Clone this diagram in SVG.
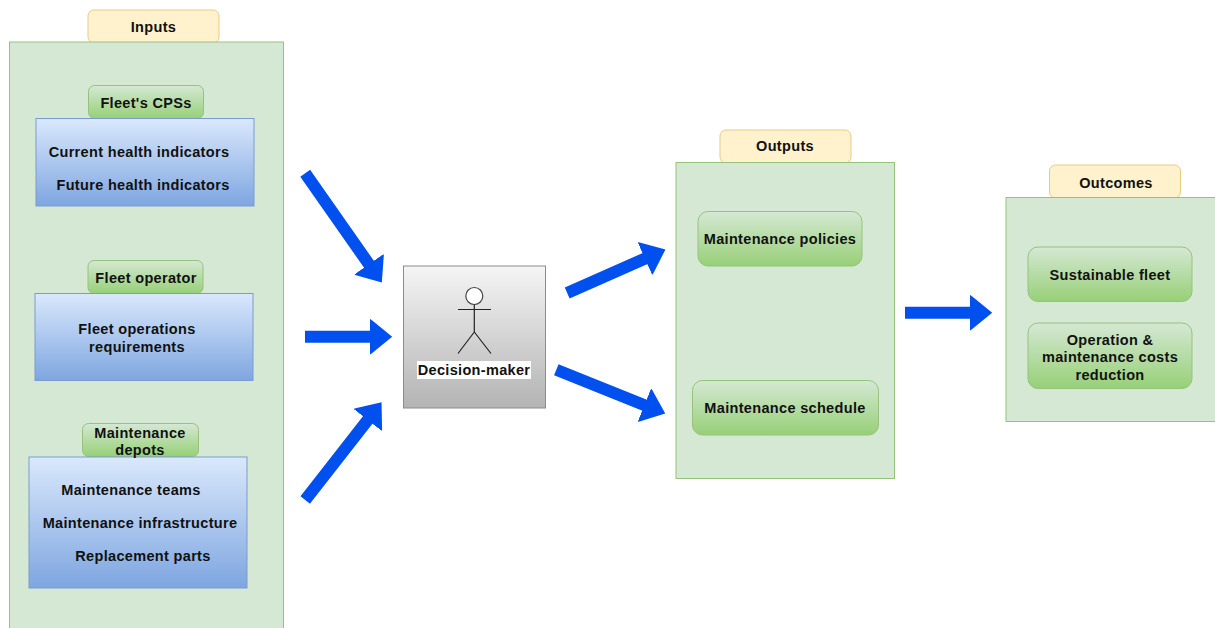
<svg xmlns="http://www.w3.org/2000/svg" width="1215" height="628" viewBox="0 0 1215 628">
<style>
text{font-family:"Liberation Sans",Arial,sans-serif;font-size:14.5px;letter-spacing:.33px;font-weight:bold;fill:#111;text-anchor:middle}
.panel{fill:#d5e8d4;stroke:#97c27d;stroke-width:1}
.tag{fill:#fff2cc;stroke:#e6cb85;stroke-width:1}
.green{fill:url(#g);stroke:#97c27d;stroke-width:1}
.blue{fill:url(#b);stroke:#7a9bcf;stroke-width:1}
.arrow{stroke:#0050ef;stroke-width:12;fill:none;marker-end:url(#head)}
.fig{stroke:#222;stroke-width:1.2;fill:none}
</style>
<defs>
<linearGradient id="g" x1="0" y1="0" x2="0" y2="1"><stop offset="0" stop-color="#d5e8d4"/><stop offset="1" stop-color="#97d077"/></linearGradient>
<linearGradient id="b" x1="0" y1="0" x2="0" y2="1"><stop offset="0" stop-color="#dae8fc"/><stop offset="1" stop-color="#7ea6e0"/></linearGradient>
<linearGradient id="s" x1="0" y1="0" x2="0" y2="1"><stop offset="0" stop-color="#f5f5f5"/><stop offset="1" stop-color="#b3b3b3"/></linearGradient>
<marker id="head" markerUnits="userSpaceOnUse" markerWidth="23" markerHeight="36" refX="1" refY="18" orient="auto" viewBox="0 0 23 36"><path d="M0 .5H1L22.500 18L1 35.500H0Z" fill="#0050ef"/></marker>
</defs>
<g id="inputs">
<rect class="tag" x="88" y="10" width="131" height="33" rx="6"/>
<rect class="panel" x="9.500" y="42" width="274" height="600"/>
<text x="153.500" y="32">Inputs</text>
</g>
<g id="fleet-cps">
<rect class="green" x="88.500" y="85.500" width="115" height="33" rx="6"/>
<rect class="blue" x="36" y="118.500" width="218" height="87.500"/>
<text x="146" y="108">Fleet's CPSs</text>
<text x="139" y="157">Current health indicators</text>
<text x="143" y="190">Future health indicators</text>
</g>
<g id="fleet-operator">
<rect class="green" x="88" y="260.500" width="115" height="33" rx="6"/>
<rect class="blue" x="35" y="293.500" width="218" height="87"/>
<text x="146" y="283">Fleet operator</text>
<text x="137" y="334">Fleet operations</text>
<text x="137" y="352">requirements</text>
</g>
<g id="maintenance-depots">
<rect class="green" x="82.500" y="423.500" width="116" height="33" rx="6"/>
<rect class="blue" x="29" y="457" width="218" height="131"/>
<text x="140" y="438">Maintenance</text>
<text x="140" y="455">depots</text>
<text x="131" y="495">Maintenance teams</text>
<text x="140" y="528">Maintenance infrastructure</text>
<text x="143" y="561">Replacement parts</text>
</g>
<g id="decision-maker">
<rect x="403.500" y="266" width="142" height="142" fill="url(#s)" stroke="#8c8c8c"/>
<circle cx="474.300" cy="296" r="8.500" fill="#fff" stroke="#444" stroke-width="1.200"/>
<path class="fig" d="M474.300 304.500V332M458 309.500H491M474.300 332L458 353.500M474.300 332L491 353.500"/>
<rect x="417" y="361" width="114" height="18" fill="#fff"/>
<text x="474" y="375">Decision-maker</text>
</g>
<g id="outputs">
<rect class="tag" x="720" y="130" width="131" height="33" rx="6"/>
<rect class="panel" x="676" y="162.500" width="218.500" height="316"/>
<text x="785" y="151">Outputs</text>
</g>
<g id="maintenance-policies">
<rect class="green" x="698" y="211.500" width="164" height="54.500" rx="10"/>
<text x="780" y="244">Maintenance policies</text>
</g>
<g id="maintenance-schedule">
<rect class="green" x="692.500" y="380.500" width="186" height="54.500" rx="10"/>
<text x="785" y="413">Maintenance schedule</text>
</g>
<g id="outcomes">
<rect class="tag" x="1049.500" y="165" width="131" height="33" rx="6"/>
<rect class="panel" x="1006" y="197.500" width="218" height="224"/>
<text x="1116" y="188">Outcomes</text>
</g>
<g id="sustainable-fleet">
<rect class="green" x="1028" y="247" width="164" height="54.500" rx="10"/>
<text x="1110" y="280">Sustainable fleet</text>
</g>
<g id="costs-reduction">
<rect class="green" x="1028" y="323" width="164" height="65.500" rx="10"/>
<text x="1110" y="345">Operation &amp;</text>
<text x="1110" y="362">maintenance costs</text>
<text x="1110" y="380">reduction</text>
</g>
<g id="connectors">
<line class="arrow" x1="305.200" y1="173.300" x2="369.500" y2="265"/>
<line class="arrow" x1="305" y1="336.700" x2="370.700" y2="336.700"/>
<line class="arrow" x1="305.200" y1="500" x2="368.300" y2="419.200"/>
<line class="arrow" x1="567.200" y1="293" x2="645.800" y2="258.200"/>
<line class="arrow" x1="556.300" y1="369.700" x2="645.300" y2="405.500"/>
<line class="arrow" x1="905" y1="312.700" x2="970.700" y2="312.700"/>
</g>
</svg>
